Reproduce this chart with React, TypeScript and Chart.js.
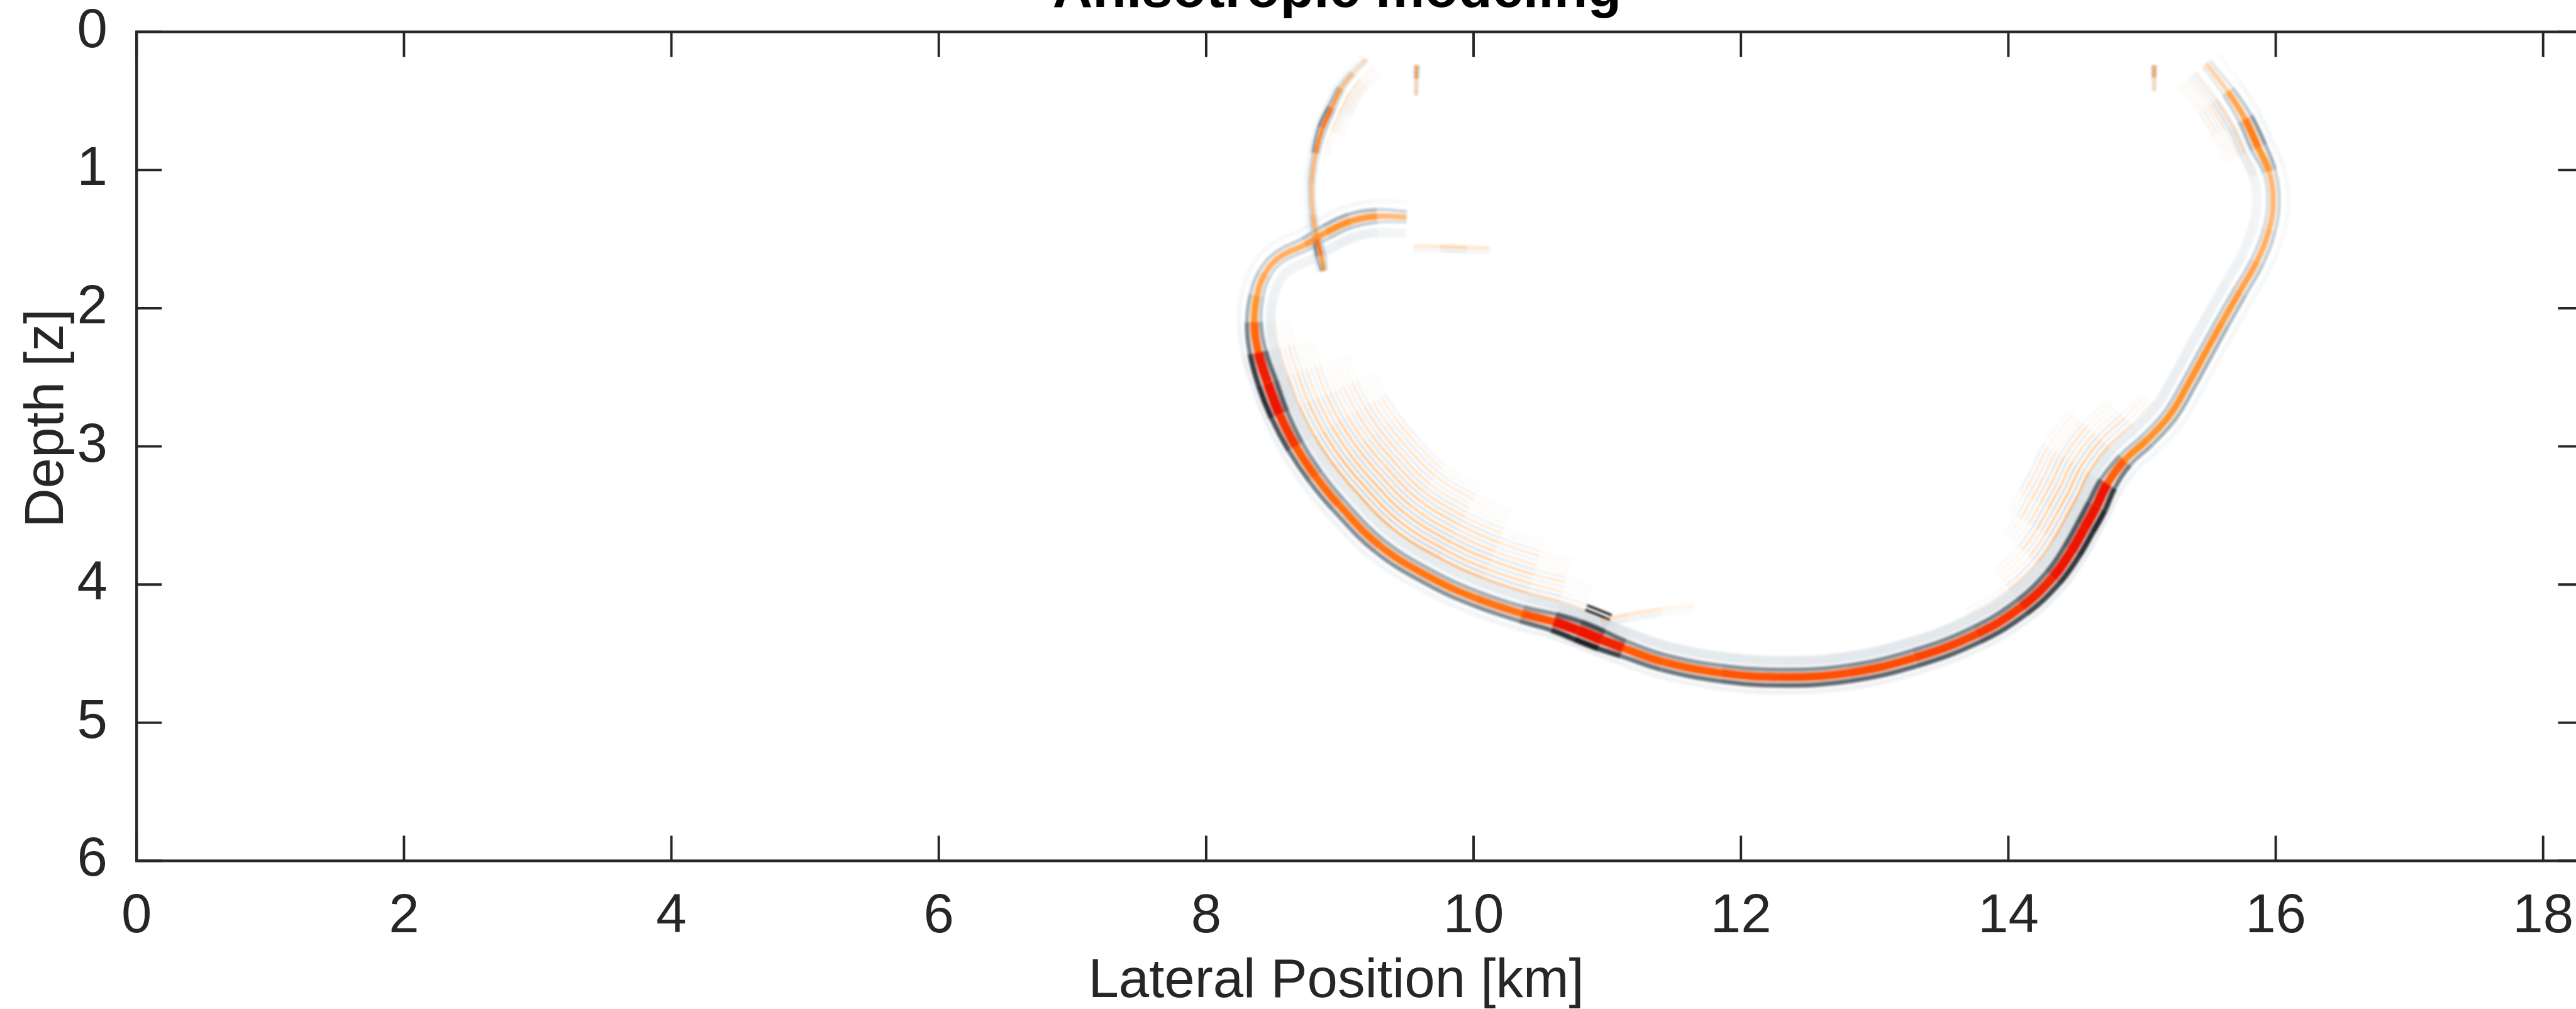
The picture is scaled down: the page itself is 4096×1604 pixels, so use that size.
import React, { useEffect, useRef } from "react";
import { Chart, registerables } from "chart.js";

Chart.register(...registerables);

// ---------------- axes ----------------
const X_TICKS = [0, 2, 4, 6, 8, 10, 12, 14, 16, 18];
const Y_TICKS = [0, 1, 2, 3, 4, 5, 6];
const X_LIMITS = [0, 18.3];
const Z_LIMITS = [0, 6];
const TITLE = "Anisotropic modeling";
const X_LABEL = "Lateral Position [km]";
const Y_LABEL = "Depth [z]";

// ---------------- wavefield snapshot ----------------
// direct qP wavefront: lateral position [km], depth, wavelet amplitude
const FRONT_X = [9.5, 9.28, 9.08, 8.9, 8.74, 8.55, 8.44, 8.38, 8.36, 8.39, 8.46, 8.55, 8.67, 8.82, 8.99, 9.3, 9.68, 10.02, 10.36, 10.6, 10.78, 10.96, 11.12, 11.42, 11.85, 12.3, 12.8, 13.3, 13.76, 14.1, 14.33, 14.47, 14.57, 14.66, 14.74, 14.87, 15.04, 15.21, 15.35, 15.48, 15.6, 15.73, 15.86, 15.95, 15.98, 15.95, 15.87, 15.77, 15.64, 15.48];
const FRONT_Z = [1.34, 1.335, 1.37, 1.45, 1.54, 1.63, 1.75, 1.91, 2.1, 2.32, 2.54, 2.77, 3.0, 3.22, 3.42, 3.72, 3.95, 4.1, 4.21, 4.27, 4.33, 4.4, 4.46, 4.56, 4.64, 4.67, 4.64, 4.53, 4.36, 4.16, 3.95, 3.76, 3.59, 3.43, 3.27, 3.1, 2.95, 2.77, 2.54, 2.31, 2.1, 1.88, 1.66, 1.43, 1.22, 1.01, 0.84, 0.63, 0.43, 0.23];
const FRONT_AMP = [0.22, 0.42, 0.5, 0.5, 0.4, 0.35, 0.38, 0.44, 0.55, 0.75, 0.95, 0.85, 0.72, 0.66, 0.62, 0.6, 0.6, 0.6, 0.62, 0.8, 1.0, 0.95, 0.72, 0.66, 0.7, 0.72, 0.72, 0.74, 0.76, 0.8, 0.85, 0.9, 0.92, 0.95, 0.8, 0.55, 0.5, 0.5, 0.5, 0.5, 0.48, 0.45, 0.4, 0.35, 0.32, 0.35, 0.62, 0.52, 0.3, 0.12];

// upper-left branch crossing the front
const BRANCH_X = [9.2, 9.1, 9.01, 8.94, 8.87, 8.82, 8.79, 8.8, 8.83, 8.86, 8.88];
const BRANCH_Z = [0.2, 0.3, 0.41, 0.55, 0.7, 0.88, 1.1, 1.32, 1.5, 1.62, 1.73];
const BRANCH_AMP = [0.15, 0.35, 0.5, 0.65, 0.8, 0.5, 0.4, 0.42, 0.55, 0.9, 0.3];

// short near-surface arrivals
const SPIKE_A_X = [9.575, 9.572, 9.57];
const SPIKE_A_Z = [0.24, 0.34, 0.46];
const SPIKE_A_AMP = [0.7, 0.55, 0.15];
const SPIKE_B_X = [15.09, 15.09, 15.09];
const SPIKE_B_Z = [0.24, 0.33, 0.43];
const SPIKE_B_AMP = [0.7, 0.5, 0.15];

// weak event near 1.55 depth
const FLAT_X = [9.55, 9.75, 9.95, 10.12];
const FLAT_Z = [1.55, 1.555, 1.56, 1.565];
const FLAT_AMP = [0.03, 0.22, 0.22, 0.03];

// scattered arc behind the kink
const ARC_X = [10.95, 11.15, 11.4, 11.65];
const ARC_Z = [4.26, 4.22, 4.18, 4.15];
const ARC_AMP = [0.16, 0.14, 0.09, 0.02];

// coda ripples trailing the front: front index span and peak amplitude
const CODA_L_FROM = [8, 8, 9, 9, 10, 10, 10, 11, 11];
const CODA_L_TO = [21, 20, 20, 19, 19, 18, 17, 17, 16];
const CODA_L_AMP = [0.46, 0.43, 0.4, 0.36, 0.32, 0.28, 0.24, 0.2, 0.16];
const CODA_R_FROM = [28, 29, 29, 30, 30, 31];
const CODA_R_TO = [37, 37, 36, 36, 35, 35];
const CODA_R_AMP = [0.42, 0.38, 0.33, 0.28, 0.23, 0.18];
const CODA_T_FROM = [45, 46, 46];
const CODA_T_TO = [49, 49, 49];
const CODA_T_AMP = [0.24, 0.19, 0.14];
const CODA_B_FROM = [0, 0];
const CODA_B_TO = [5, 4];
const CODA_B_AMP = [0.22, 0.16];

// ---------------- layout ----------------
const S = 0.957;
const CANVAS_W = 4120;
const CANVAS_H = 1604;
const PLOT = { left: 217.2, top: 50.7, right: 4107.5, bottom: 1368.5 };
const PX_X = (PLOT.right - PLOT.left) / (X_LIMITS[1] - X_LIMITS[0]);
const PX_Z = (PLOT.bottom - PLOT.top) / (Z_LIMITS[1] - Z_LIMITS[0]);
const FONT = '"Liberation Sans", Arial, Helvetica, sans-serif';
const INK = "#262626";
const TICK_LEN = 40;

// ---------------- colour map (troughs grey/black, peaks orange/red) ----------------
const POS_STOPS: [number, number[]][] = [
  [0.6, [255, 143, 38]],
  [0.8, [255, 90, 8]],
  [1, [236, 22, 0]],
];
const NEG_STOPS: [number, number[]][] = [
  [0.4, [186, 198, 207]],
  [0.6, [125, 136, 145]],
  [0.8, [60, 66, 72]],
  [1, [12, 12, 12]],
];
function cmap(a: number): string {
  const stops = a >= 0 ? POS_STOPS : NEG_STOPS;
  const m = Math.min(1, Math.abs(a));
  const [m0, c0] = stops[0];
  if (m <= m0) return `rgba(${c0[0]},${c0[1]},${c0[2]},${(m / m0).toFixed(3)})`;
  for (let i = 1; i < stops.length; i++) {
    const [m1, c1] = stops[i];
    const [mp, cp] = stops[i - 1];
    if (m <= m1) {
      const t = (m - mp) / (m1 - mp);
      const c = cp.map((v, j) => Math.round(v + (c1[j] - v) * t));
      return `rgb(${c[0]},${c[1]},${c[2]})`;
    }
  }
  const c = stops[stops.length - 1][1];
  return `rgb(${c[0]},${c[1]},${c[2]})`;
}

type Curve = { x: number[]; z: number[]; amp: number[] };
const FRONT: Curve = { x: FRONT_X, z: FRONT_Z, amp: FRONT_AMP };
const BRANCH: Curve = { x: BRANCH_X, z: BRANCH_Z, amp: BRANCH_AMP };
const SPIKE_A: Curve = { x: SPIKE_A_X, z: SPIKE_A_Z, amp: SPIKE_A_AMP };
const SPIKE_B: Curve = { x: SPIKE_B_X, z: SPIKE_B_Z, amp: SPIKE_B_AMP };
const FLAT: Curve = { x: FLAT_X, z: FLAT_Z, amp: FLAT_AMP };
const ARC: Curve = { x: ARC_X, z: ARC_Z, amp: ARC_AMP };

// unit normals in screen space (depth axis points down)
function normals(c: Curve): number[][] {
  const n = c.x.length;
  return c.x.map((_, i) => {
    const a = Math.max(0, i - 1);
    const b = Math.min(n - 1, i + 1);
    const tx = (c.x[b] - c.x[a]) * PX_X;
    const tz = (c.z[b] - c.z[a]) * PX_Z;
    const len = Math.hypot(tx, tz) || 1;
    return [-tz / len, tx / len];
  });
}

function stroke(points: { x: number; y: number }[], amp: number[], width: number, gain: number, scaleWidth: boolean) {
  const seg = (ctx: any) => (amp[ctx.p0DataIndex] + amp[ctx.p1DataIndex]) / 2;
  return {
    data: points,
    showLine: true,
    fill: false,
    tension: 0.4,
    pointRadius: 0,
    pointHoverRadius: 0,
    pointHitRadius: 0,
    borderWidth: width,
    borderColor: cmap(gain * amp[0]),
    backgroundColor: "rgba(0,0,0,0)",
    borderCapStyle: "butt",
    segment: {
      borderColor: (ctx: any) => cmap(gain * seg(ctx)),
      borderWidth: (ctx: any) =>
        scaleWidth ? width * (0.3 + 0.7 * Math.min(1, Math.abs(seg(ctx)))) : width,
    },
  };
}

// one lobe of the wavelet, shifted along the normal of a curve
function band(c: Curve, offset: number, width: number, gain: number, scaleWidth = true) {
  const nm = normals(c);
  const pts = c.x.map((x, i) => {
    const f = scaleWidth ? 0.45 + 0.55 * Math.min(1, Math.abs(c.amp[i])) : 1;
    const d = offset * S * f;
    return { x: x + (nm[i][0] * d) / PX_X, y: c.z[i] + (nm[i][1] * d) / PX_Z };
  });
  return stroke(pts, c.amp, width * S, gain, scaleWidth);
}

// a trailing coda ripple following part of a curve
function ripple(c: Curve, from: number, to: number, peak: number, offset: number) {
  const nm = normals(c);
  const pts: { x: number; y: number }[] = [];
  const amp: number[] = [];
  for (let i = from; i <= to; i++) {
    const d = offset * S;
    pts.push({ x: c.x[i] + (nm[i][0] * d) / PX_X, y: c.z[i] + (nm[i][1] * d) / PX_Z });
    amp.push(peak * Math.pow(Math.sin((Math.PI * (i - from)) / (to - from)), 1.2));
  }
  return stroke(pts, amp, 3.6 * S, 1, false);
}

function coda(c: Curve, from: number[], to: number[], peaks: number[], base: number, step: number) {
  const out: any[] = [];
  from.forEach((s, k) => {
    out.push(ripple(c, s, to[k], peaks[k], base + step * k));
    out.push(ripple(c, s, to[k], -0.75 * peaks[k], base + step * k + step / 2));
  });
  return out;
}

function buildDatasets() {
  const layers: any[] = [];
  // soft halos
  layers.push(band(FRONT, -27, 16, -0.22, false));
  layers.push(band(FRONT, 25, 8, -0.12, false));
  layers.push(band(BRANCH, 11, 5, -0.14, false));
  // coda
  layers.push(...coda(FRONT, CODA_L_FROM, CODA_L_TO, CODA_L_AMP, -36, -16));
  layers.push(...coda(FRONT, CODA_R_FROM, CODA_R_TO, CODA_R_AMP, -36, -16));
  layers.push(...coda(FRONT, CODA_T_FROM, CODA_T_TO, CODA_T_AMP, -24, -14));
  layers.push(...coda(BRANCH, CODA_B_FROM, CODA_B_TO, CODA_B_AMP, -16, -12));
  // weak events
  layers.push(band(FLAT, 7, 5, -0.6, false));
  layers.push(band(FLAT, 0, 6, 1, false));
  layers.push(band(ARC, 8, 7, -0.7, false));
  layers.push(band(ARC, 0, 7, 1, false));
  // trough lobes
  layers.push(band(FRONT, 16, 10, -0.95));
  layers.push(band(FRONT, -14.5, 9, -0.8));
  layers.push(band(BRANCH, 7.5, 6, -0.85));
  layers.push(band(BRANCH, -7, 5, -0.55));
  layers.push(band(SPIKE_A, 4.5, 3.5, -0.6));
  layers.push(band(SPIKE_A, -4.5, 3.5, -0.6));
  layers.push(band(SPIKE_B, 4.5, 3.5, -0.6));
  layers.push(band(SPIKE_B, -4.5, 3.5, -0.6));
  // peak lobes
  layers.push(band(FRONT, 0, 18, 1.15));
  layers.push(band(BRANCH, 0, 8, 1));
  layers.push(band(SPIKE_A, 0, 5, 1));
  layers.push(band(SPIKE_B, 0, 5, 1));
  const n = layers.length;
  return layers.map((d, i) => ({ ...d, order: n - i }));
}

// separable running-sum box blur on the RGB channels of an opaque image
function boxBlur(d: Uint8ClampedArray, w: number, h: number, r: number) {
  const win = 2 * r + 1;
  const buf = new Float32Array(Math.max(w, h) * 3);
  for (let y = 0; y < h; y++) {
    const row = y * w * 4;
    for (let x = 0; x < w; x++) {
      const p = row + x * 4;
      buf[x * 3] = d[p];
      buf[x * 3 + 1] = d[p + 1];
      buf[x * 3 + 2] = d[p + 2];
    }
    for (let c = 0; c < 3; c++) {
      let sum = 0;
      for (let k = -r; k <= r; k++) sum += buf[Math.min(w - 1, Math.max(0, k)) * 3 + c];
      for (let x = 0; x < w; x++) {
        d[row + x * 4 + c] = sum / win;
        const add = Math.min(w - 1, x + r + 1);
        const sub = Math.max(0, x - r);
        sum += buf[add * 3 + c] - buf[sub * 3 + c];
      }
    }
  }
  for (let x = 0; x < w; x++) {
    for (let y = 0; y < h; y++) {
      const p = (y * w + x) * 4;
      buf[y * 3] = d[p];
      buf[y * 3 + 1] = d[p + 1];
      buf[y * 3 + 2] = d[p + 2];
    }
    for (let c = 0; c < 3; c++) {
      let sum = 0;
      for (let k = -r; k <= r; k++) sum += buf[Math.min(h - 1, Math.max(0, k)) * 3 + c];
      for (let y = 0; y < h; y++) {
        d[(y * w + x) * 4 + c] = sum / win;
        const add = Math.min(h - 1, y + r + 1);
        const sub = Math.max(0, y - r);
        sum += buf[add * 3 + c] - buf[sub * 3 + c];
      }
    }
  }
}

// softens the rendered wavefield inside the plot area
const softenField = {
  id: "softenField",
  afterDatasetsDraw(chart: any) {
    const { ctx, chartArea: a } = chart;
    const x0 = Math.floor(a.left) + 2;
    const y0 = Math.floor(a.top) + 2;
    const w = Math.ceil(a.right) - x0 - 2;
    const h = Math.ceil(a.bottom) - y0 - 2;
    ctx.save();
    ctx.setTransform(1, 0, 0, 1, 0, 0);
    ctx.globalCompositeOperation = "destination-over";
    ctx.fillStyle = "#ffffff";
    ctx.fillRect(x0, y0, w, h);
    ctx.globalCompositeOperation = "source-over";
    const img = ctx.getImageData(x0, y0, w, h);
    boxBlur(img.data, w, h, 2);
    boxBlur(img.data, w, h, 1);
    ctx.putImageData(img, x0, y0);
    ctx.restore();
  },
};

// box, inward ticks, title and axis labels
const frame = {
  id: "frame",
  afterDraw(chart: any) {
    const { ctx, chartArea: a, scales } = chart;
    ctx.save();
    ctx.strokeStyle = INK;
    ctx.lineWidth = 4.3;
    ctx.strokeRect(a.left, a.top, a.right - a.left, a.bottom - a.top);
    ctx.lineWidth = 3.9;
    ctx.beginPath();
    X_TICKS.forEach((v) => {
      const p = scales.x.getPixelForValue(v);
      ctx.moveTo(p, a.bottom);
      ctx.lineTo(p, a.bottom - TICK_LEN);
      ctx.moveTo(p, a.top);
      ctx.lineTo(p, a.top + TICK_LEN);
    });
    Y_TICKS.forEach((v) => {
      const p = scales.y.getPixelForValue(v);
      ctx.moveTo(a.left, p);
      ctx.lineTo(a.left + TICK_LEN, p);
      ctx.moveTo(a.right, p);
      ctx.lineTo(a.right - TICK_LEN, p);
    });
    ctx.stroke();

    ctx.textAlign = "center";
    ctx.textBaseline = "alphabetic";
    ctx.fillStyle = "#000";
    ctx.font = `bold 88px ${FONT}`;
    ctx.fillText(TITLE, 2126, 11.3);

    ctx.fillStyle = INK;
    ctx.font = `87px ${FONT}`;
    ctx.fillText(X_LABEL, 2124.5, 1585.4);

    ctx.translate(99.5, 665);
    ctx.rotate(-Math.PI / 2);
    ctx.fillText(Y_LABEL, 0, 0);
    ctx.restore();
  },
};

function fixBox(kind: "x" | "y") {
  return (s: any) => {
    if (kind === "x") s.height = CANVAS_H - PLOT.bottom;
    else s.width = PLOT.left;
    s.paddingLeft = 0;
    s.paddingRight = 0;
    s.paddingTop = 0;
    s.paddingBottom = 0;
  };
}

export default function App() {
  const ref = useRef<HTMLCanvasElement>(null);

  useEffect(() => {
    if (!ref.current) return;
    const chart = new Chart(ref.current, {
      type: "scatter",
      data: { datasets: buildDatasets() as any },
      options: {
        responsive: false,
        devicePixelRatio: 1,
        animation: false,
        events: [],
        layout: {
          padding: { left: 0, top: PLOT.top, right: CANVAS_W - PLOT.right, bottom: 0 },
        },
        plugins: {
          legend: { display: false },
          tooltip: { enabled: false },
          title: { display: false },
          colors: { enabled: false },
        } as any,
        elements: { point: { radius: 0 } },
        scales: {
          x: {
            type: "linear",
            position: "bottom",
            min: X_LIMITS[0],
            max: X_LIMITS[1],
            grid: { display: false },
            border: { display: false },
            ticks: {
              color: INK,
              font: { family: FONT, size: 87 },
              padding: 29.6,
              maxRotation: 0,
              minRotation: 0,
              autoSkip: false,
              includeBounds: false,
            },
            afterBuildTicks: (s: any) => {
              s.ticks = X_TICKS.map((v) => ({ value: v }));
            },
            afterFit: fixBox("x"),
          },
          y: {
            type: "linear",
            position: "left",
            reverse: true,
            min: Z_LIMITS[0],
            max: Z_LIMITS[1],
            grid: { display: false },
            border: { display: false },
            ticks: {
              color: INK,
              font: { family: FONT, size: 87, lineHeight: 1 },
              padding: 38.2,
              autoSkip: false,
              includeBounds: false,
            },
            afterBuildTicks: (s: any) => {
              s.ticks = Y_TICKS.map((v) => ({ value: v }));
            },
            afterFit: fixBox("y"),
          },
        },
      } as any,
      plugins: [softenField, frame],
    });
    return () => chart.destroy();
  }, []);

  return (
    <div
      style={{
        position: "fixed",
        left: 0,
        top: 0,
        width: 4096,
        height: 1604,
        overflow: "hidden",
        background: "#fff",
      }}
    >
      <canvas
        ref={ref}
        width={CANVAS_W}
        height={CANVAS_H}
        style={{ display: "block", width: CANVAS_W, height: CANVAS_H }}
      />
    </div>
  );
}
